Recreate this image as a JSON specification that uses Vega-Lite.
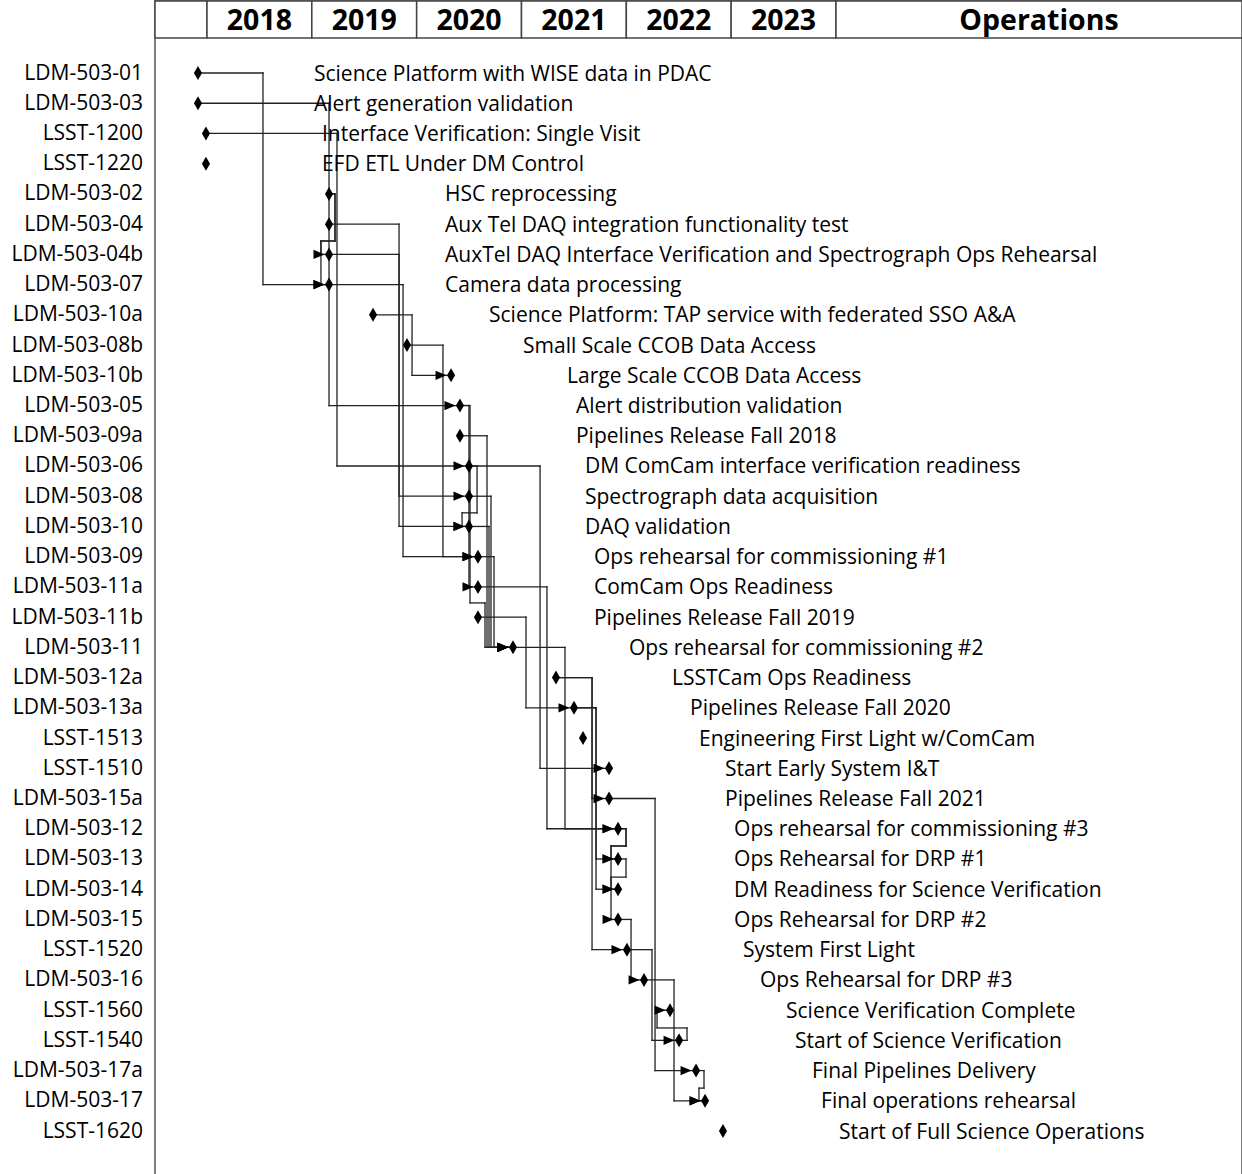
{
  "$schema": "https://vega.github.io/schema/vega-lite/v6.json",
  "width": 1087,
  "height": 1177,
  "autosize": "none",
  "padding": {"left": 155, "top": 0, "right": 0, "bottom": 0},
  "background": "white",
  "config": {"view": {"stroke": "#555", "strokeWidth": 1.5}, "font": "Open Sans"},
  "datasets": {
    "tasks": [
      {"id": "LDM-503-01", "name": "Science Platform with WISE data in PDAC", "row": 0, "date": 2017.914},
      {"id": "LDM-503-03", "name": "Alert generation validation", "row": 1, "date": 2017.914},
      {"id": "LSST-1200", "name": "Interface Verification: Single Visit", "row": 2, "date": 2017.99},
      {"id": "LSST-1220", "name": "EFD ETL Under DM Control", "row": 3, "date": 2017.99},
      {"id": "LDM-503-02", "name": "HSC reprocessing", "row": 4, "date": 2019.164},
      {"id": "LDM-503-04", "name": "Aux Tel DAQ integration functionality test", "row": 5, "date": 2019.164},
      {"id": "LDM-503-04b", "name": "AuxTel DAQ Interface Verification and Spectrograph Ops Rehearsal", "row": 6, "date": 2019.164},
      {"id": "LDM-503-07", "name": "Camera data processing", "row": 7, "date": 2019.164},
      {"id": "LDM-503-10a", "name": "Science Platform: TAP service with federated SSO A&A", "row": 8, "date": 2019.584},
      {"id": "LDM-503-08b", "name": "Small Scale CCOB Data Access", "row": 9, "date": 2019.908},
      {"id": "LDM-503-10b", "name": "Large Scale CCOB Data Access", "row": 10, "date": 2020.328},
      {"id": "LDM-503-05", "name": "Alert distribution validation", "row": 11, "date": 2020.413},
      {"id": "LDM-503-09a", "name": "Pipelines Release Fall 2018", "row": 12, "date": 2020.413},
      {"id": "LDM-503-06", "name": "DM ComCam interface verification readiness", "row": 13, "date": 2020.499},
      {"id": "LDM-503-08", "name": "Spectrograph data acquisition", "row": 14, "date": 2020.499},
      {"id": "LDM-503-10", "name": "DAQ validation", "row": 15, "date": 2020.499},
      {"id": "LDM-503-09", "name": "Ops rehearsal for commissioning #1", "row": 16, "date": 2020.585},
      {"id": "LDM-503-11a", "name": "ComCam Ops Readiness", "row": 17, "date": 2020.585},
      {"id": "LDM-503-11b", "name": "Pipelines Release Fall 2019", "row": 18, "date": 2020.585},
      {"id": "LDM-503-11", "name": "Ops rehearsal for commissioning #2", "row": 19, "date": 2020.919},
      {"id": "LDM-503-12a", "name": "LSSTCam Ops Readiness", "row": 20, "date": 2021.329},
      {"id": "LDM-503-13a", "name": "Pipelines Release Fall 2020", "row": 21, "date": 2021.501},
      {"id": "LSST-1513", "name": "Engineering First Light w/ComCam", "row": 22, "date": 2021.587},
      {"id": "LSST-1510", "name": "Start Early System I&T", "row": 23, "date": 2021.835},
      {"id": "LDM-503-15a", "name": "Pipelines Release Fall 2021", "row": 24, "date": 2021.835},
      {"id": "LDM-503-12", "name": "Ops rehearsal for commissioning #3", "row": 25, "date": 2021.921},
      {"id": "LDM-503-13", "name": "Ops Rehearsal for DRP #1", "row": 26, "date": 2021.921},
      {"id": "LDM-503-14", "name": "DM Readiness for Science Verification", "row": 27, "date": 2021.921},
      {"id": "LDM-503-15", "name": "Ops Rehearsal for DRP #2", "row": 28, "date": 2021.921},
      {"id": "LSST-1520", "name": "System First Light", "row": 29, "date": 2022.006},
      {"id": "LDM-503-16", "name": "Ops Rehearsal for DRP #3", "row": 30, "date": 2022.169},
      {"id": "LSST-1560", "name": "Science Verification Complete", "row": 31, "date": 2022.417},
      {"id": "LSST-1540", "name": "Start of Science Verification", "row": 32, "date": 2022.503},
      {"id": "LDM-503-17a", "name": "Final Pipelines Delivery", "row": 33, "date": 2022.665},
      {"id": "LDM-503-17", "name": "Final operations rehearsal", "row": 34, "date": 2022.751},
      {"id": "LSST-1620", "name": "Start of Full Science Operations", "row": 35, "date": 2022.922}
    ],
    "edges": [
      {"from": "LDM-503-01", "to": "LDM-503-07", "via": 2018.534},
      {"from": "LDM-503-03", "to": "LDM-503-05", "via": 2019.164},
      {"from": "LSST-1200", "to": "LDM-503-06", "via": 2019.24},
      {"from": "LDM-503-02", "to": "LDM-503-04b", "via": 2019.221, "jog": 5.557, "via2": 2019.087},
      {"from": "LDM-503-02", "to": "LDM-503-07", "via": 2019.221, "jog": 5.557, "via2": 2019.087},
      {"from": "LDM-503-04", "to": "LDM-503-08", "via": 2019.832},
      {"from": "LDM-503-04b", "to": "LDM-503-10", "via": 2019.832},
      {"from": "LDM-503-07", "to": "LDM-503-09", "via": 2019.87},
      {"from": "LDM-503-10a", "to": "LDM-503-10b", "via": 2019.956},
      {"from": "LDM-503-08b", "to": "LDM-503-09", "via": 2020.251},
      {"from": "LDM-503-05", "to": "LDM-503-11a", "via": 2020.499},
      {"from": "LDM-503-05", "to": "LDM-503-11", "via": 2020.509, "jog": 17.53, "via2": 2020.652},
      {"from": "LDM-503-09a", "to": "LDM-503-11", "via": 2020.671},
      {"from": "LDM-503-06", "to": "LDM-503-10", "via": 2020.576, "jog": 14.55, "via2": 2020.433},
      {"from": "LDM-503-06", "to": "LSST-1510", "via": 2021.177},
      {"from": "LDM-503-08", "to": "LDM-503-11", "via": 2020.709},
      {"from": "LDM-503-10", "to": "LDM-503-11", "via": 2020.69},
      {"from": "LDM-503-09", "to": "LDM-503-11", "via": 2020.738},
      {"from": "LDM-503-11a", "to": "LDM-503-12", "via": 2021.243},
      {"from": "LDM-503-11b", "to": "LDM-503-13a", "via": 2021.043},
      {"from": "LDM-503-11", "to": "LDM-503-12", "via": 2021.415},
      {"from": "LDM-503-12a", "to": "LDM-503-15a", "via": 2021.673},
      {"from": "LDM-503-12a", "to": "LSST-1520", "via": 2021.673},
      {"from": "LDM-503-13a", "to": "LDM-503-13", "via": 2021.711},
      {"from": "LDM-503-13a", "to": "LDM-503-14", "via": 2021.711},
      {"from": "LDM-503-15a", "to": "LDM-503-17a", "via": 2022.274},
      {"from": "LDM-503-12", "to": "LDM-503-13", "via": 2021.997, "jog": 25.57, "via2": 2021.854},
      {"from": "LDM-503-12", "to": "LDM-503-15", "via": 2021.997, "jog": 25.57, "via2": 2021.854},
      {"from": "LDM-503-13", "to": "LDM-503-14", "via": 2021.997, "jog": 26.6, "via2": 2021.854},
      {"from": "LDM-503-15", "to": "LDM-503-16", "via": 2022.045},
      {"from": "LSST-1520", "to": "LSST-1540", "via": 2022.245},
      {"from": "LDM-503-16", "to": "LDM-503-17", "via": 2022.455},
      {"from": "LSST-1540", "to": "LSST-1560", "via": 2022.579, "jog": 31.59, "via2": 2022.293},
      {"from": "LDM-503-17a", "to": "LDM-503-17", "via": 2022.741, "jog": 33.58, "via2": 2022.693}
    ],
    "header": [
      {"label": "", "start": 2017.504, "end": 2018},
      {"label": "2018", "start": 2018, "end": 2019},
      {"label": "2019", "start": 2019, "end": 2020},
      {"label": "2020", "start": 2020, "end": 2021},
      {"label": "2021", "start": 2021, "end": 2022},
      {"label": "2022", "start": 2022, "end": 2023},
      {"label": "2023", "start": 2023, "end": 2024},
      {"label": "Operations", "start": 2024, "end": 2027.873}
    ]
  },
  "encoding": {
    "x": {"type": "quantitative", "scale": {"domain": [2017.504, 2027.873], "nice": false, "zero": false}, "axis": null},
    "y": {"type": "quantitative", "scale": {"domain": [-2.415, 36.52], "nice": false, "zero": false, "reverse": true}, "axis": null}
  },
  "layer": [
    {
      "data": {"name": "header"},
      "mark": {"type": "rect", "fill": "white", "stroke": "#444", "strokeWidth": 1.5},
      "encoding": {
        "x": {"field": "start", "type": "quantitative"},
        "x2": {"field": "end"},
        "y": {"datum": -2.382, "type": "quantitative"},
        "y2": {"datum": -1.158}
      }
    },
    {
      "data": {"name": "header"},
      "transform": [{"calculate": "(datum.start + datum.end) / 2", "as": "mid"}],
      "mark": {"type": "text", "font": "Open Sans", "fontWeight": "bold", "fontSize": 28.5, "align": "center", "baseline": "middle", "color": "#000"},
      "encoding": {
        "x": {"field": "mid", "type": "quantitative"},
        "y": {"datum": -1.72, "type": "quantitative"},
        "text": {"field": "label"}
      }
    },
    {
      "data": {"name": "edges"},
      "transform": [
        {"lookup": "from", "from": {"data": {"name": "tasks"}, "key": "id", "fields": ["row", "date"]}, "as": ["sr", "sd"]},
        {"lookup": "to", "from": {"data": {"name": "tasks"}, "key": "id", "fields": ["row", "date"]}, "as": ["tr", "td"]},
        {"calculate": "isValid(datum.jog) ? datum.jog : datum.tr", "as": "vend"},
        {"calculate": "isValid(datum.via2) ? datum.via2 : datum.via", "as": "xin"}
      ],
      "layer": [
        {
          "mark": {"type": "rule", "color": "#222", "strokeWidth": 1.3, "strokeCap": "square"},
          "encoding": {"x": {"field": "sd", "type": "quantitative"}, "x2": {"field": "via"}, "y": {"field": "sr", "type": "quantitative"}}
        },
        {
          "mark": {"type": "rule", "color": "#222", "strokeWidth": 1.3, "strokeCap": "square"},
          "encoding": {"x": {"field": "via", "type": "quantitative"}, "y": {"field": "sr", "type": "quantitative"}, "y2": {"field": "vend"}}
        },
        {
          "transform": [{"filter": "isValid(datum.jog)"}],
          "mark": {"type": "rule", "color": "#222", "strokeWidth": 1.3, "strokeCap": "square"},
          "encoding": {"x": {"field": "via", "type": "quantitative"}, "x2": {"field": "via2"}, "y": {"field": "jog", "type": "quantitative"}}
        },
        {
          "transform": [{"filter": "isValid(datum.jog)"}],
          "mark": {"type": "rule", "color": "#222", "strokeWidth": 1.3, "strokeCap": "square"},
          "encoding": {"x": {"field": "via2", "type": "quantitative"}, "y": {"field": "jog", "type": "quantitative"}, "y2": {"field": "tr"}}
        },
        {
          "mark": {"type": "rule", "color": "#222", "strokeWidth": 1.3, "strokeCap": "square"},
          "encoding": {"x": {"field": "xin", "type": "quantitative"}, "x2": {"field": "td"}, "y": {"field": "tr", "type": "quantitative"}}
        },
        {
          "transform": [{"filter": "datum.xin < datum.td - 0.02"}],
          "mark": {"type": "point", "shape": "M-1,-0.42L0,0L-1,0.42Z", "filled": true, "color": "#000", "opacity": 1, "size": 484, "xOffset": -4.5},
          "encoding": {"x": {"field": "td", "type": "quantitative"}, "y": {"field": "tr", "type": "quantitative"}}
        }
      ]
    },
    {
      "data": {"name": "tasks"},
      "mark": {"type": "point", "shape": "M0,-1L0.58,0L0,1L-0.58,0Z", "filled": true, "color": "#000", "opacity": 1, "size": 196},
      "encoding": {"x": {"field": "date", "type": "quantitative"}, "y": {"field": "row", "type": "quantitative"}}
    },
    {
      "data": {"name": "tasks"},
      "mark": {"type": "text", "font": "Open Sans", "fontSize": 21, "align": "left", "baseline": "middle", "dx": 116, "dy": 1.5, "color": "#000"},
      "encoding": {"x": {"field": "date", "type": "quantitative"}, "y": {"field": "row", "type": "quantitative"}, "text": {"field": "name"}}
    },
    {
      "data": {"name": "tasks"},
      "mark": {"type": "text", "font": "Open Sans", "fontSize": 21, "align": "right", "baseline": "middle", "dx": -12, "dy": 0.5, "color": "#000"},
      "encoding": {"x": {"datum": 2017.504, "type": "quantitative"}, "y": {"field": "row", "type": "quantitative"}, "text": {"field": "id"}}
    }
  ]
}
